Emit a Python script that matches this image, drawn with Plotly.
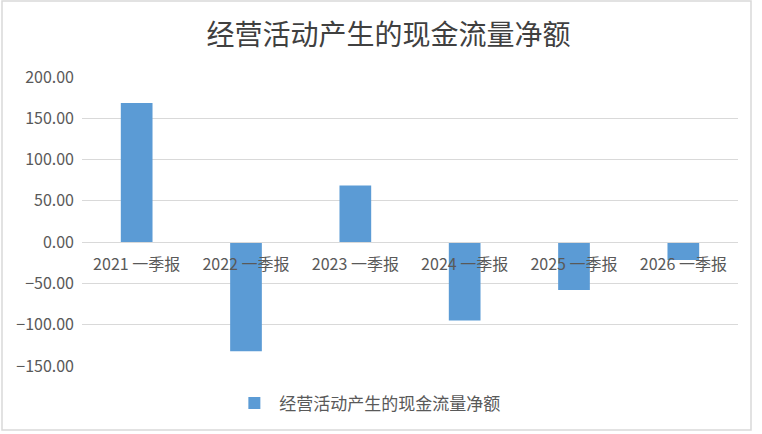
import plotly.graph_objects as go

# data
categories = ['2021 一季报', '2022 一季报', '2023 一季报', '2024 一季报', '2025 一季报', '2026 一季报']
values = [168.5, -132.0, 68.5, -95.0, -58.0, -21.5]
y_ticks = [200, 150, 100, 50, 0, -50, -100, -150]

series_name = '经营活动产生的现金流量净额'
bar_color = '#5B9BD5'
grid_color = '#D9D9D9'
text_color = '#595959'

fig = go.Figure()
fig.add_trace(go.Bar(x=categories, y=values, name=series_name,
                     marker=dict(color=bar_color, line=dict(width=0)),
                     width=0.29, showlegend=True))

y_min, y_max = -150, 200

fig.update_layout(
    width=762, height=434,
    margin=dict(l=82, r=24, t=77, b=68),
    paper_bgcolor='white', plot_bgcolor='white',
    font=dict(family='Noto Sans CJK SC, Liberation Sans, sans-serif', color=text_color, size=16),
    title=dict(text=series_name, x=0.51, xanchor='center', y=0.918, yanchor='middle',
               font=dict(size=28, color='#404040',
                         family='Noto Sans CJK SC, sans-serif')),
    showlegend=True,
    legend=dict(orientation='h', x=0.435, xanchor='center', y=-0.13, yanchor='middle',
                font=dict(size=17, color=text_color), itemwidth=40),
    bargap=0.7,
)

# category labels sit on the zero line, like the Excel axis
fig.update_xaxes(anchor='free', position=(0 - y_min) / (y_max - y_min),
                 showline=True, linecolor=grid_color, linewidth=1,
                 ticks='', showgrid=False, ticklabelstandoff=8,
                 tickfont=dict(size=16, color=text_color))
fig.update_yaxes(range=[y_min, y_max], tickvals=y_ticks, tickformat='.2f',
                 showgrid=True, gridcolor=grid_color, gridwidth=1,
                 zeroline=True, zerolinecolor=grid_color, zerolinewidth=1,
                 showline=False, ticks='', ticklabelstandoff=7,
                 tickfont=dict(size=16, color=text_color))

# chart-area border
fig.add_shape(type='rect', xref='paper', yref='paper',
              x0=-80 / 656, x1=1 + 13 / 656, y0=-64 / 289, y1=1 + 76 / 289,
              line=dict(color='#D9D9D9', width=1.5), fillcolor='rgba(0,0,0,0)', layer='below')

fig.write_html("out.html", config={'displayModeBar': False},
               post_script="document.body.style.margin='0';")
